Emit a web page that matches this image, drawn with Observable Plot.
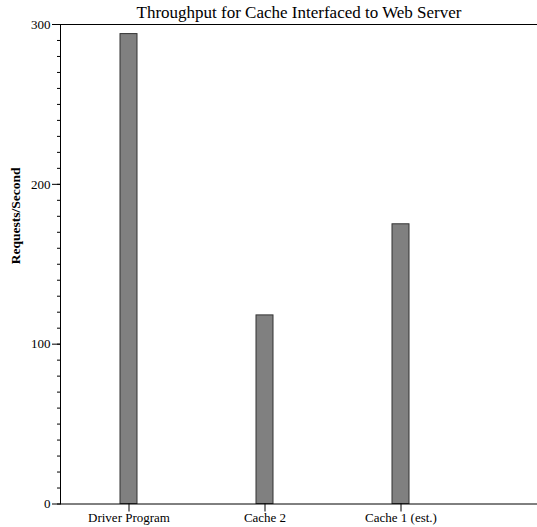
<!DOCTYPE html>
<html><head><meta charset="utf-8">
<script src="https://cdn.jsdelivr.net/npm/d3@7"></script>
<script src="https://cdn.jsdelivr.net/npm/@observablehq/plot@0.6"></script>
<style>body{margin:0;background:#fff} svg text{font-family:'Liberation Serif','Times New Roman',serif}</style>
</head><body><div id="chart"></div>
<script>
const categories = ["Driver Program", "Cache 2", "Cache 1 (est.)"];
const requestsPerSecond = [294, 118, 175];
const majorTicks = [0, 100, 200, 300];
const minorTicks = d3.range(0, 301, 10);
const title = "Throughput for Cache Interfaced to Web Server";
const yLabel = "Requests/Second";

const data = categories.map((c, i) => ({category: c, value: requestsPerSecond[i]}));
const serif = "'Liberation Serif', 'Times New Roman', serif";

const chart = Plot.plot({
  width: 537, height: 527,
  marginLeft: 60, marginRight: 0, marginTop: 24, marginBottom: 23.5,
  style: {fontFamily: serif, fontSize: "13px", background: "#fff", color: "#000"},
  x: {domain: categories, paddingInner: 0.872, paddingOuter: 0.677, align: 0.32, label: null},
  y: {domain: [0, 300], label: null},
  marks: [
    Plot.barY(data, {x: "category", y: "value", fill: "#808080", stroke: "#333", strokeWidth: 1}),
    Plot.axisY(minorTicks, {tickSize: 3, tickFormat: () => ""}),
    Plot.axisY(majorTicks, {tickSize: 8, tickPadding: 2, fontSize: 13, fontFamily: serif}),
    Plot.axisX({tickSize: 8, tickPadding: 1, fontSize: 13, fontFamily: serif}),
    Plot.frame({anchor: "left", stroke: "#000"}),
    Plot.frame({anchor: "top", stroke: "#000"}),
    Plot.frame({anchor: "bottom", stroke: "#000"}),
    Plot.text([title], {frameAnchor: "top", lineAnchor: "bottom", dy: -7, fontSize: 17, fontFamily: serif}),
    Plot.text([yLabel], {frameAnchor: "left", rotate: -90, dx: -45, fontWeight: "bold", fontSize: 13.5, fontFamily: serif})
  ]
});
document.getElementById("chart").append(chart);
</script>
</body></html>
